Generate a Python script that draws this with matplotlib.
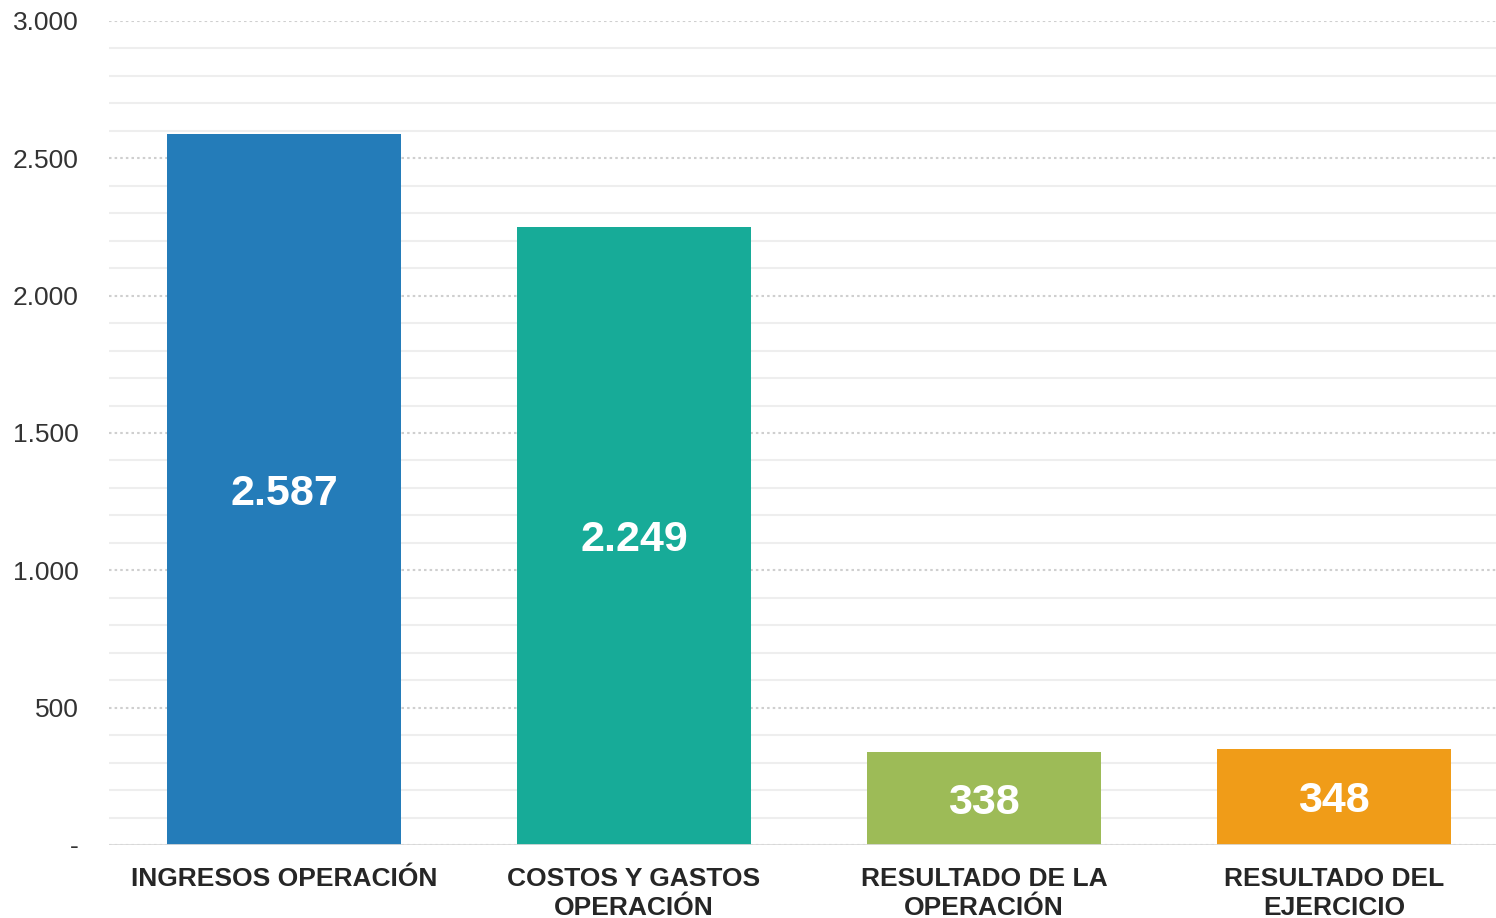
import matplotlib
matplotlib.use("Agg")
import matplotlib.pyplot as plt
from matplotlib.ticker import FixedLocator
from matplotlib.transforms import offset_copy

categories = ["INGRESOS OPERACIÓN", "COSTOS Y GASTOS\nOPERACIÓN",
              "RESULTADO DE LA\nOPERACIÓN", "RESULTADO DEL\nEJERCICIO"]
values = [2587, 2249, 338, 348]
value_labels = ["2.587", "2.249", "338", "348"]
colors = ["#247CB9", "#17AB98", "#9DBB57", "#F09C18"]
y_ticks = [0, 500, 1000, 1500, 2000, 2500, 3000]
y_tick_labels = ["-", "500", "1.000", "1.500", "2.000", "2.500", "3.000"]

plt.rcParams['font.family'] = ['Liberation Sans', 'DejaVu Sans']

fig = plt.figure(figsize=(14.96, 9.18), dpi=100)
ax = fig.add_axes([109/1496, 1 - 845/918, (1496-109)/1496, (845-21)/918])

x = list(range(len(categories)))
ax.bar(x, values, width=0.67, color=colors, zorder=3)

trans = offset_copy(ax.transData, fig=fig, x=0, y=-3, units='points')
for xi, v, lab in zip(x, values, value_labels):
    ax.text(xi, v/2, lab, ha='center', va='center', color='white',
            fontsize=31, fontweight='bold', zorder=4, transform=trans)

ax.set_ylim(0, 3000)
ax.set_xlim(-0.5, 3.463)
ax.set_yticks(y_ticks)
ax.set_yticklabels(y_tick_labels)
ax.yaxis.set_minor_locator(FixedLocator([v for v in range(100, 3000, 100) if v % 500 != 0]))
ax.grid(which='minor', axis='y', color='#eeeeee', linewidth=1.5, linestyle='-', zorder=0)
ax.grid(which='major', axis='y', color='#cfcfcf', linewidth=1.5, linestyle=(0, (1.2, 1.5)), zorder=0)
ax.axhline(0, color='#d9d9d9', linewidth=2, zorder=5)

ax.set_xticks(x)
ax.set_xticklabels(categories, fontsize=19, fontweight='bold', color='#262626', linespacing=1.27)
ax.tick_params(axis='x', length=0, pad=15.5)
ax.tick_params(axis='y', which='both', length=0, pad=22, labelsize=19, labelcolor='#333333')
for s in ax.spines.values():
    s.set_visible(False)

fig.savefig("out.png", dpi=100)
